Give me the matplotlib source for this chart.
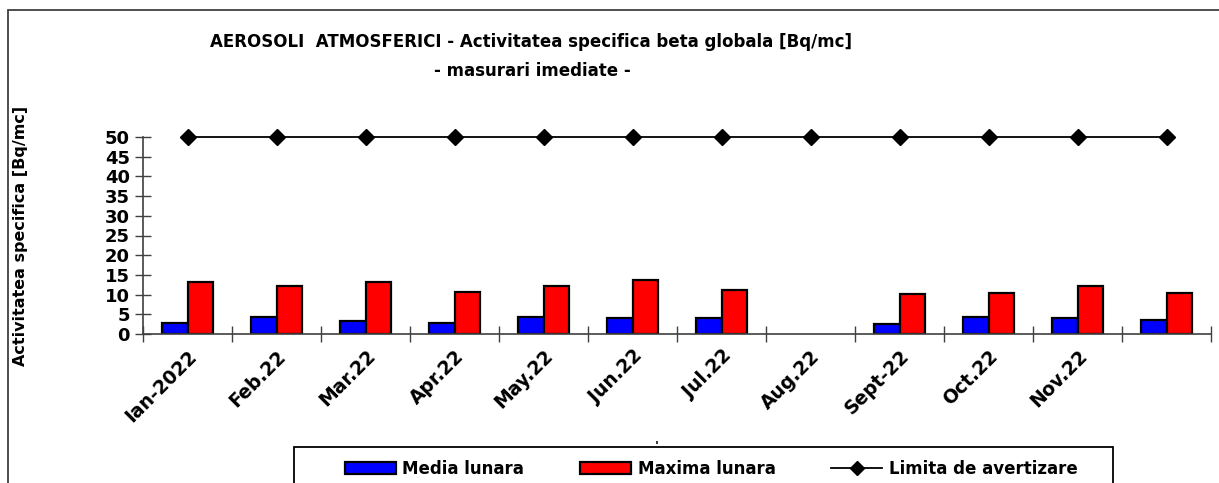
import matplotlib
matplotlib.use('Agg')
import matplotlib.pyplot as plt
from matplotlib.patches import Patch, Rectangle
from matplotlib.lines import Line2D
import numpy as np

luni = ['Ian-2022', 'Feb.22', 'Mar.22', 'Apr.22', 'May.22', 'Jun.22',
        'Jul.22', 'Aug.22', 'Sept-22', 'Oct.22', 'Nov.22', '']
# august lipseste (fara masuratori)
media = [2.8, 4.3, 3.4, 2.8, 4.3, 4.1, 4.1, np.nan, 2.5, 4.4, 4.1, 3.5]
maxima = [13.1, 12.1, 13.1, 10.6, 12.1, 13.8, 11.2, np.nan, 10.1, 10.3, 12.3, 10.3]
limita = [50] * 12

W, H = 1219, 483
plt.rcParams['font.family'] = 'DejaVu Sans'
plt.rcParams['font.weight'] = 'bold'

def fx(x):
    return x / W

def fy(y):
    return 1 - y / H

fig = plt.figure(figsize=(W / 100, H / 100), dpi=100)
# rama exterioara (se vede doar stanga si sus)
fig.patches.append(Rectangle((fx(8), fy(520)), 1.2, fy(10) - fy(520),
                             transform=fig.transFigure, fill=False,
                             edgecolor='#404040', linewidth=1.3))

ax = fig.add_axes([fx(143), fy(334), fx(1211) - fx(143), fy(137) - fy(334)])
x = np.arange(len(luni))
w = 0.285
ax.bar(x - w / 2, media, w, color='#0000ff', edgecolor='black', linewidth=1.6)
ax.bar(x + w / 2, maxima, w, color='#ff0000', edgecolor='black', linewidth=1.6)
ax.plot(x, limita, color='black', linewidth=1.3, marker='D', markersize=8, clip_on=False)

ax.set_xlim(-0.5, len(luni) - 0.5)
ax.set_ylim(0, 50)
ax.set_yticks(range(0, 51, 5))
ax.set_xticks(x)
ax.set_xticklabels(luni, rotation=45, ha='right', rotation_mode='anchor')
ax.set_xticks(np.arange(-0.5, len(luni)), minor=True)
ax.tick_params(axis='x', which='major', length=0, pad=9, labelsize=13.5)
ax.tick_params(axis='x', which='minor', direction='inout', length=11,
               color='#404040', width=1)
ax.tick_params(axis='y', direction='inout', length=11, color='#404040',
               width=1, labelsize=13, pad=4)
for s in ['top', 'right']:
    ax.spines[s].set_visible(False)
for s in ['left', 'bottom']:
    ax.spines[s].set_color('#404040')
    ax.spines[s].set_linewidth(1.2)
ax.set_ylabel('Activitatea specifica [Bq/mc]', fontsize=11.5, fontweight='bold')
ax.yaxis.set_label_coords((28 - 143) / (1211 - 143), (334 - 236) / (334 - 137))

fig.text(fx(531), fy(42), 'AEROSOLI  ATMOSFERICI - Activitatea specifica beta globala [Bq/mc]',
         ha='center', va='center', fontsize=12, fontweight='bold')
fig.text(fx(532), fy(71), '- masurari imediate -', ha='center', va='center',
         fontsize=12, fontweight='bold')
fig.text(fx(657), fy(446), "'", ha='center', va='center', fontsize=9, fontweight='bold')

# legenda
fig.patches.append(Rectangle((fx(294), fy(520)), fx(1113) - fx(294), fy(447) - fy(520),
                             transform=fig.transFigure, fill=False,
                             edgecolor='black', linewidth=1.3))
handles = [Patch(facecolor='#0000ff', edgecolor='black', linewidth=1.6),
           Patch(facecolor='#ff0000', edgecolor='black', linewidth=1.6),
           Line2D([], [], color='black', linewidth=1.3, marker='D', markersize=7)]
fig.legend(handles, ['Media lunara', 'Maxima lunara', 'Limita de avertizare'],
           loc='center left', bbox_to_anchor=(fx(345), fy(469)), ncol=3,
           frameon=False, borderpad=0, borderaxespad=0, handlelength=3.05,
           handletextpad=0.4, columnspacing=3.35, prop={'size': 12, 'weight': 'bold'})

fig.savefig('out.png', dpi=100)
